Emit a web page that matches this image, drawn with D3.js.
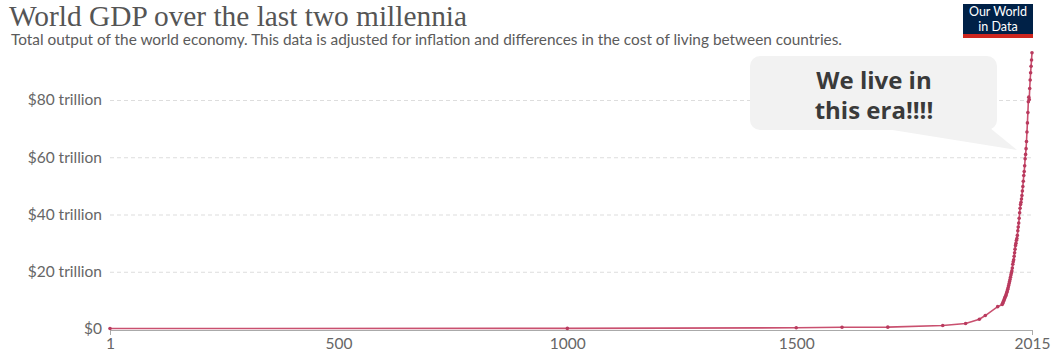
<!DOCTYPE html>
<html><head><meta charset="utf-8">
<script src="https://cdn.jsdelivr.net/npm/d3@7"></script>
<style>body{margin:0;background:#fff;}svg{display:block;}</style>
</head><body>
<script>
const years = [1,1000,1500,1600,1700,1820,1870,1900,1913,1940,
1950,1951,1952,1953,1954,1955,1956,1957,1958,1959,
1960,1961,1962,1963,1964,1965,1966,1967,1968,1969,
1970,1971,1972,1973,1974,1975,1976,1977,1978,1979,
1980,1981,1982,1983,1984,1985,1986,1987,1988,1989,
1990,1991,1992,1993,1994,1995,1996,1997,1998,1999,
2000,2001,2002,2003,2004,2005,2006,2007,2008,2009,
2010,2011,2012,2013,2014,2015];
const gdpTrillions = [0.18,0.21,0.43,0.60,0.64,1.2,1.9,3.4,4.7,7.8,
8.6,9.0,9.4,9.8,10.1,10.6,11.0,11.4,11.8,12.3,
12.8,13.3,13.9,14.5,15.2,15.9,16.6,17.3,18.1,18.9,
19.6,20.3,21.3,22.6,23.5,24.2,25.4,26.6,27.9,29.2,
30.0,31.0,31.6,32.7,34.3,35.6,37.0,38.7,40.6,42.2,
43.5,44.3,45.4,46.6,48.2,49.8,51.6,53.6,55.0,57.0,
59.5,61.0,63.0,65.5,68.8,72.0,75.6,79.4,81.0,80.2,
84.0,87.0,89.5,91.8,94.0,96.5];
const yTicks = [0,20,40,60,80];
const yTickLabels = ["$0","$20 trillion","$40 trillion","$60 trillion","$80 trillion"];
const xTicks = [1,500,1000,1500,2015];
const title = "World GDP over the last two millennia";
const subtitle = "Total output of the world economy. This data is adjusted for inflation and differences in the cost of living between countries.";
const calloutLines = ["We live in","this era!!!!"];

const W = 1064, H = 355;
const svg = d3.select("body").append("svg").attr("width", W).attr("height", H);
const data = years.map((y,i)=>({year:y, v:gdpTrillions[i]}));

const x = d3.scaleLinear().domain([1,2015]).range([110,1032]);
const y = d3.scaleLinear().domain([0,80]).range([329,100]);

// title
svg.append("text").attr("x",9).attr("y",26).text(title)
  .attr("font-family","Liberation Serif, serif").attr("font-size",29).attr("fill","#555")
  .attr("textLength",458).attr("lengthAdjust","spacingAndGlyphs");
svg.append("text").attr("x",11).attr("y",45).text(subtitle)
  .attr("font-family","Lato, sans-serif").attr("font-size",15.4).attr("fill","#5b5b5b")
  .attr("textLength",831).attr("lengthAdjust","spacingAndGlyphs");

// logo
const logo = svg.append("g");
logo.append("rect").attr("x",963).attr("y",4).attr("width",70).attr("height",34).attr("fill","#002147");
logo.append("rect").attr("x",963).attr("y",34).attr("width",70).attr("height",4).attr("fill","#ce261e");
logo.append("text").attr("x",998).attr("y",16).attr("text-anchor","middle").text("Our World")
  .attr("font-family","Lato, sans-serif").attr("font-size",12.5).attr("fill","#fff");
logo.append("text").attr("x",998).attr("y",31).attr("text-anchor","middle").text("in Data")
  .attr("font-family","Lato, sans-serif").attr("font-size",12.5).attr("fill","#fff");

// grid
const grid = d3.axisLeft(y).tickValues(yTicks.slice(1)).tickSize(-(1032-110)).tickFormat("");
svg.append("g").attr("transform","translate(110,0)").call(grid)
  .call(g=>g.select(".domain").remove())
  .call(g=>g.selectAll("line").attr("stroke","#ddd").attr("stroke-dasharray","4,3"));

// y labels
const yAx = d3.axisLeft(y).tickValues(yTicks).tickSize(0).tickPadding(6)
  .tickFormat((d,i)=>yTickLabels[i]);
svg.append("g").attr("transform","translate(108,0)").call(yAx)
  .call(g=>g.select(".domain").remove())
  .call(g=>g.selectAll("text").attr("font-family","Lato, sans-serif").attr("font-size",15.5).attr("fill","#666"));

// x axis
const xAx = d3.axisBottom(x).tickValues(xTicks).tickFormat(d3.format("d")).tickSize(5).tickPadding(3);
svg.append("g").attr("transform","translate(0,330)").call(xAx)
  .call(g=>g.select(".domain").attr("stroke","#aaa"))
  .call(g=>g.selectAll(".tick line").attr("stroke","#aaa").attr("opacity",(d)=> (d===1||d===2015)?1:0))
  .call(g=>g.selectAll("text").attr("font-family","Lato, sans-serif").attr("font-size",15.5).attr("fill","#666"));

// callout
const cb = svg.append("g");
cb.append("path").attr("d","M880,128 L990,128 L1017,150 Z").attr("fill","#f2f2f2");
cb.append("rect").attr("x",750).attr("y",56).attr("width",247).attr("height",74).attr("rx",10).attr("fill","#f2f2f2");
calloutLines.forEach((t,i)=>{
  cb.append("text").attr("x",874).attr("y",89+i*30).attr("text-anchor","middle").text(t)
    .attr("font-family","Open Sans, sans-serif").attr("font-weight",700).attr("font-size",24).attr("fill","#3a3a3a");
});

// line
const line = d3.line().x(d=>x(d.year)).y(d=>y(d.v));
svg.append("path").datum(data).attr("d",line).attr("fill","none")
  .attr("stroke","#c9506f").attr("stroke-width",1.6);
svg.append("g").selectAll("circle").data(data).join("circle")
  .attr("cx",d=>x(d.year)).attr("cy",d=>y(d.v)).attr("r",1.8).attr("fill","#b93a5e");
</script>
</body></html>
